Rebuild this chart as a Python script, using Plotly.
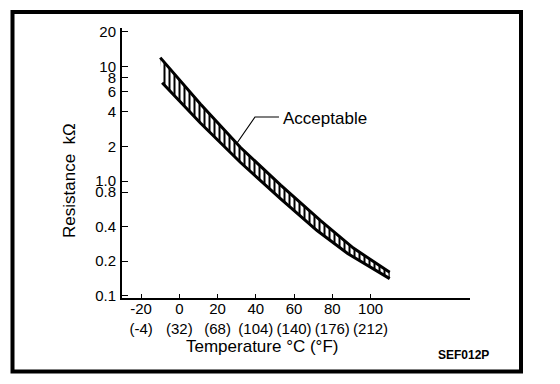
import plotly.graph_objects as go

# Data
temp_upper = [-10, 11, 32, 53, 74, 91, 110]
res_upper = [11.9, 4.7, 1.96, 0.92, 0.45, 0.26, 0.16]
temp_lower = [-9, 11, 32, 53, 72, 88, 110]
res_lower = [7.2, 3.2, 1.45, 0.70, 0.37, 0.233, 0.141]

x_tickvals = [-20, 0, 20, 40, 60, 80, 100]
x_ticktext = ["-20<br>(-4)", "0<br>(32)", "20<br>(68)", "40<br>(104)",
              "60<br>(140)", "80<br>(176)", "100<br>(212)"]
y_tickvals = [20, 10, 8, 6, 4, 2, 1, 0.8, 0.4, 0.2, 0.1]
y_ticktext = ["20", "10", "8", "6", "4", "2", "1.0", "0.8", "0.4", "0.2", "0.1"]

FONT = "Liberation Sans, Arial, Helvetica, sans-serif"

# plot area in window pixels: x 122..470, y 28..298 (page body adds 8px offset)
def px(xw):
    return (xw - 122) / 348

def py(yw):
    return (298 - yw) / 270

fig = go.Figure()
fig.add_trace(go.Scatter(
    x=temp_upper, y=res_upper, mode="lines",
    line=dict(color="black", width=3), showlegend=False, hoverinfo="skip"))
fig.add_trace(go.Scatter(
    x=temp_lower, y=res_lower, mode="lines",
    line=dict(color="black", width=3), showlegend=False, hoverinfo="skip",
    fill="tonexty", fillcolor="white",
    fillpattern=dict(shape="|", size=5, solidity=0.4,
                     fgcolor="black", bgcolor="white", fillmode="replace")))

fig.update_layout(
    width=560, height=384,
    margin=dict(l=114, r=98, t=20, b=94),
    paper_bgcolor="white", plot_bgcolor="white",
    font=dict(family=FONT, color="black", size=14),
    xaxis=dict(
        range=[-30, 152], showgrid=False, zeroline=False,
        showline=True, linecolor="black", linewidth=2,
        ticks="inside", ticklen=4, tickwidth=1, tickcolor="black",
        tickvals=x_tickvals, ticktext=x_ticktext,
        tickfont=dict(size=15, family=FONT), ticklabelstandoff=-4,
        automargin=False,
    ),
    yaxis=dict(
        type="log", range=[-1.02, 1.334], showgrid=False, zeroline=False,
        showline=True, linecolor="black", linewidth=2,
        ticks="inside", ticklen=6, tickwidth=1, tickcolor="black",
        tickvals=y_tickvals, ticktext=y_ticktext,
        tickfont=dict(size=15, family=FONT), ticklabelstandoff=1,
        automargin=False,
    ),
    shapes=[
        # outer frame
        dict(type="rect", xref="paper", yref="paper",
             x0=px(12.5), x1=px(521), y0=py(371.5), y1=py(12),
             line=dict(color="black", width=4), fillcolor="rgba(0,0,0,0)"),
        # leader line for "Acceptable"
        dict(type="path", xref="paper", yref="paper",
             path="M {:.4f},{:.4f} L {:.4f},{:.4f} L {:.4f},{:.4f}".format(
                 px(237), py(143), px(255), py(117), px(279), py(117)),
             line=dict(color="black", width=1.2)),
    ],
    annotations=[
        dict(text="Acceptable", xref="paper", yref="paper",
             x=px(281), y=py(118),
             xanchor="left", yanchor="middle", showarrow=False,
             font=dict(size=17, family=FONT)),
        dict(text="Temperature °C (°F)", xref="paper", yref="paper",
             x=px(262), y=py(346),
             xanchor="center", yanchor="middle", showarrow=False,
             font=dict(size=17, family=FONT)),
        dict(text="Resistance  kΩ", xref="paper", yref="paper",
             x=px(70), y=py(180), textangle=-90,
             xanchor="center", yanchor="middle", showarrow=False,
             font=dict(size=17, family=FONT)),
        dict(text="<b>SEF012P</b>", xref="paper", yref="paper",
             x=px(463), y=py(355),
             xanchor="center", yanchor="middle", showarrow=False,
             font=dict(size=12, family=FONT)),
    ],
)

fig.write_html("out.html")
